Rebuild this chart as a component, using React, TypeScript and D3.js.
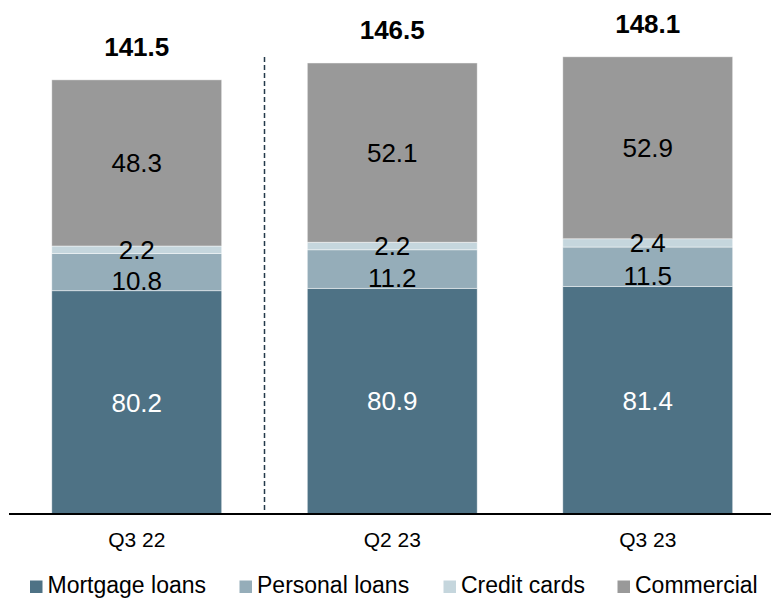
import React from "react";
import * as d3 from "d3";

const categories = ["Q3 22", "Q2 23", "Q3 23"];
const seriesNames = ["Mortgage loans", "Personal loans", "Credit cards", "Commercial"];
const mortgage = [80.2, 80.9, 81.4];
const personal = [10.8, 11.2, 11.5];
const credit = [2.2, 2.2, 2.4];
const commercial = [48.3, 52.1, 52.9];
const totals = [141.5, 146.5, 148.1];
const colors = ["#4e7285", "#95adb9", "#c5d6dd", "#999999"];
const labelColors = ["#ffffff", "#000000", "#000000", "#000000"];

const W = 771;
const H = 599;
const FONT = "'Liberation Sans', Arial, sans-serif";

export default function App() {
  const series = [mortgage, personal, credit, commercial];
  const x = d3.scaleBand<string>().domain(categories).range([9, 775.5]).paddingInner(0.335).paddingOuter(0.1675);
  const y = d3.scaleLinear().domain([15.3, 150]).range([514, 50.6]).clamp(true);

  const rows = categories.map((c, i) => {
    const r: any = { cat: c };
    seriesNames.forEach((s, k) => (r[s] = series[k][i]));
    return r;
  });
  const stacked = d3.stack<any>().keys(seriesNames)(rows);

  const legendX = [30, 239.5, 443.5, 617.5];
  const dashX = ((x(categories[0]) as number) + x.bandwidth() + (x(categories[1]) as number)) / 2;

  return (
    <svg width={W} height={H} style={{ position: "absolute", left: 0, top: 0, background: "#fff" }}>
      {stacked.map((layer, k) => (
        <g key={layer.key}>
          {layer.map((d, i) => {
            const y0 = y(d[0]);
            const y1 = y(d[1]);
            const bx = x(categories[i]) as number;
            return (
              <rect
                key={i}
                x={bx}
                y={y1}
                width={x.bandwidth()}
                height={Math.max(0, y0 - y1)}
                fill={colors[k]}
                stroke="#ffffff"
                strokeOpacity={0.6}
                strokeWidth={0.75}
              />
            );
          })}
        </g>
      ))}
      {stacked.map((layer, k) => (
        <g key={"l" + layer.key}>
          {layer.map((d, i) => {
            const cy = (y(d[0]) + y(d[1])) / 2 + (k === 1 ? 8.5 : 0);
            const cx = (x(categories[i]) as number) + x.bandwidth() / 2;
            return (
              <text
                key={i}
                x={cx}
                y={cy + 9.3}
                textAnchor="middle"
                fontFamily={FONT}
                fontSize={26}
                fill={labelColors[k]}
              >
                {series[k][i].toFixed(1)}
              </text>
            );
          })}
        </g>
      ))}
      {totals.map((t, i) => (
        <text
          key={"t" + i}
          x={(x(categories[i]) as number) + x.bandwidth() / 2}
          y={y(t) - 24}
          textAnchor="middle"
          fontFamily={FONT}
          fontSize={26}
          fontWeight="bold"
          fill="#000"
        >
          {t.toFixed(1)}
        </text>
      ))}
      <line x1={dashX} x2={dashX} y1={57} y2={514} stroke="#23394a" strokeWidth={1.5} strokeDasharray="5,3" />
      <line x1={9} x2={771} y1={514} y2={514} stroke="#000" strokeWidth={2} />
      {categories.map((c) => (
        <text
          key={c}
          x={(x(c) as number) + x.bandwidth() / 2}
          y={546.7}
          textAnchor="middle"
          fontFamily={FONT}
          fontSize={21}
          fill="#000"
        >
          {c}
        </text>
      ))}
      {seriesNames.map((s, k) => (
        <g key={"lg" + s} transform={`translate(${legendX[k]},0)`}>
          <rect x={0} y={580.5} width={12.5} height={12.5} fill={colors[k]} />
          <text x={17.5} y={593} fontFamily={FONT} fontSize={23} fill="#000">
            {s}
          </text>
        </g>
      ))}
    </svg>
  );
}
